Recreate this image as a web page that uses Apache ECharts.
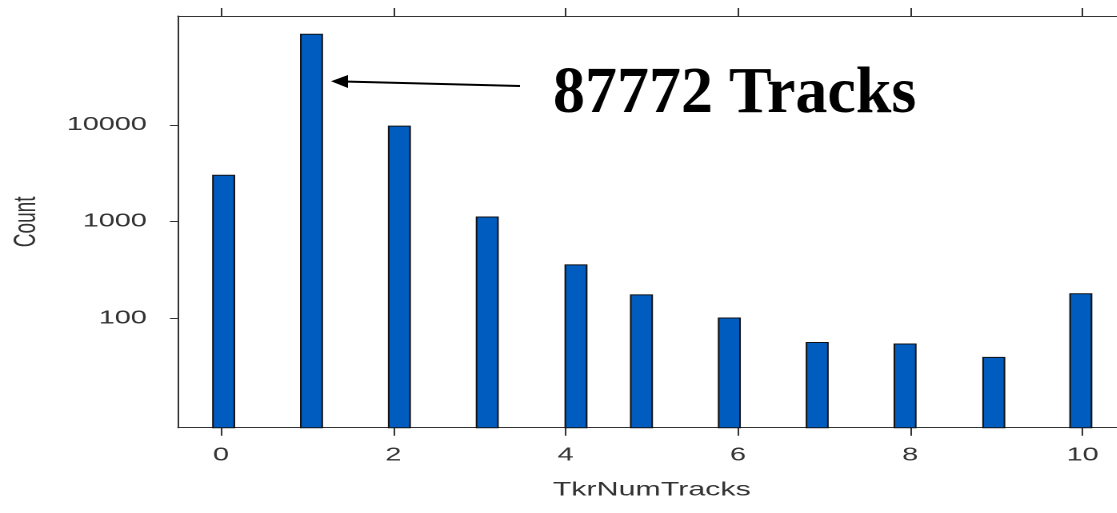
<!DOCTYPE html>
<html>
<head>
<meta charset="utf-8">
<script src="https://cdn.jsdelivr.net/npm/echarts@6/dist/echarts.min.js"></script>
<style>
  html, body { margin: 0; padding: 0; background: #fff; overflow: hidden; }
  #wrap { width: 1117px; height: 513px; overflow: hidden; position: relative; background: #fff; }
  #chart { position: absolute; left: 0; top: 0; height: 513px; transform-origin: 0 0; }
</style>
</head>
<body>
<div id="wrap"><div id="chart"></div></div>
<script>
// Histogram of reconstructed track multiplicity, counts on a log scale
const binCentres = [0.03, 1.05, 2.07, 3.09, 4.12, 4.88, 5.90, 6.92, 7.94, 8.97, 9.98];
const counts = [3060, 87772, 9840, 1130, 362, 177, 102, 57, 55, 40, 182];
const xTickValues = [0, 2, 4, 6, 8, 10];
const yTickValues = [100, 1000, 10000];
const xName = 'TkrNumTracks';
const yName = 'Count';
const peakIndex = 1;

// The plot is laid out in a narrower frame and widened with a CSS scaleX,
// giving the wide, horizontally stretched look of the exported figure.
const STRETCH = 1.6;
const W = 1117 / STRETCH;

const el = document.getElementById('chart');
el.style.width = W + 'px';
el.style.transform = 'scaleX(' + STRETCH + ')';

const chart = echarts.init(el, null, { renderer: 'canvas', devicePixelRatio: 2 });

const axisColor = '#333';
const sans = '"Liberation Sans", Arial, sans-serif';

const baseTick = { show: true, length: 8, inside: false, lineStyle: { color: axisColor, width: 1 } };

chart.setOption({
  animation: false,
  backgroundColor: '#fff',
  grid: {
    left: 178 / STRETCH,
    right: -8.8 / STRETCH,
    top: 16,
    bottom: 85.3,
    containLabel: false,
    outerBoundsMode: 'none'
  },
  xAxis: [
    {
      type: 'value',
      position: 'bottom',
      min: -0.5,
      max: 10.5,
      name: xName,
      nameLocation: 'middle',
      nameGap: 53,
      nameTextStyle: { fontFamily: sans, fontSize: 19, color: '#333' },
      axisLine: { show: true, onZero: false, lineStyle: { color: axisColor, width: 1 } },
      axisTick: Object.assign({ customValues: xTickValues }, baseTick),
      axisLabel: { customValues: xTickValues, margin: 19, fontFamily: sans, fontSize: 18, color: '#333' },
      splitLine: { show: false }
    },
    {
      type: 'value',
      position: 'top',
      min: -0.5,
      max: 10.5,
      axisLine: { show: true, onZero: false, lineStyle: { color: axisColor, width: 1 } },
      axisTick: Object.assign({ customValues: xTickValues }, baseTick),
      axisLabel: { show: false },
      splitLine: { show: false }
    }
  ],
  yAxis: {
    type: 'log',
    logBase: 10,
    min: 7.4,
    max: 134000,
    name: yName,
    nameLocation: 'middle',
    nameGap: 85,
    nameTextStyle: { fontFamily: sans, fontSize: 19, color: '#333' },
    axisLine: { show: true, onZero: false, lineStyle: { color: axisColor, width: 1 } },
    axisTick: { show: true, length: 8 / STRETCH, customValues: yTickValues, lineStyle: { color: axisColor, width: 1 } },
    axisLabel: {
      customValues: yTickValues,
      margin: 19.5,
      fontFamily: sans,
      fontSize: 18,
      color: '#333',
      formatter: v => String(Math.round(v))
    },
    splitLine: { show: false }
  },
  series: [{
    type: 'bar',
    xAxisIndex: 0,
    clip: true,
    barWidth: 23 / STRETCH,
    data: binCentres.map((x, i) => [x, counts[i]]),
    itemStyle: { color: '#005cbf', borderColor: '#111', borderWidth: 1 }
  }],
  graphic: [{
    type: 'group',
    x: 0,
    y: 0,
    scaleX: 1 / STRETCH,
    children: [
      {
        type: 'line',
        shape: { x1: 520, y1: 86, x2: 344, y2: 81.5 },
        style: { stroke: '#000', lineWidth: 2 }
      },
      {
        type: 'polygon',
        shape: { points: [[331, 81.3], [348, 75], [348, 88]] },
        style: { fill: '#000' }
      },
      {
        type: 'text',
        x: 553,
        y: 95,
        scaleX: 0.97,
        style: {
          text: counts[peakIndex] + ' Tracks',
          font: 'bold 66px "Liberation Serif", "Times New Roman", serif',
          fill: '#000',
          align: 'left',
          verticalAlign: 'middle'
        }
      }
    ]
  }]
});
</script>
</body>
</html>
